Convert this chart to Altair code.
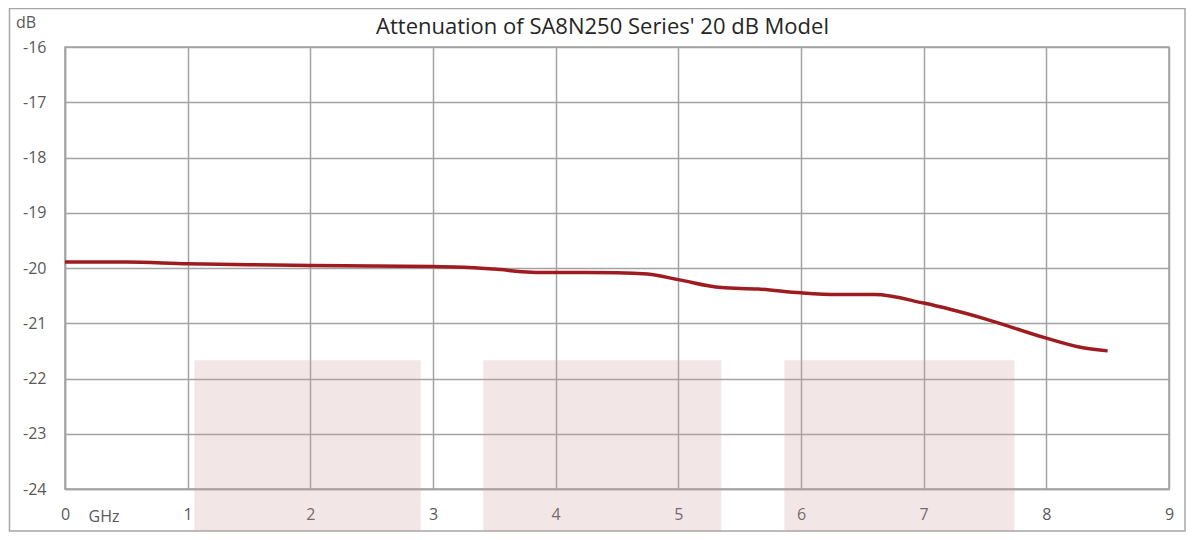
import altair as alt
import pandas as pd

# ---- data ----
freq_ghz = [0, 0.5, 1, 1.5, 2, 2.5, 3, 3.25, 3.5, 3.8, 4, 4.5, 4.75, 5,
            5.35, 5.65, 6, 6.3, 6.6, 7, 7.5, 8, 8.3, 8.5]
atten_db = [-19.89, -19.89, -19.925, -19.94, -19.955, -19.965, -19.975, -19.985,
            -20.02, -20.075, -20.082, -20.085, -20.11, -20.21, -20.355, -20.38,
            -20.45, -20.48, -20.48, -20.635, -20.92, -21.27, -21.445, -21.50]

band_start = [1.055, 3.41, 5.864]
band_end = [2.90, 5.35, 7.74]
band_top = -21.67
band_bottom = -24.76

x_ticks = [0, 1, 2, 3, 4, 5, 6, 7, 8, 9]
y_ticks = [-24, -23, -22, -21, -20, -19, -18, -17, -16]

title_text = "Attenuation of SA8N250 Series' 20 dB Model"

W, H = 1104, 442
FONT = "Open Sans"
GRID = "#a3a3a3"

line_df = pd.DataFrame({"f": freq_ghz, "a": atten_db})
band_df = pd.DataFrame({"f": band_start, "f2": band_end,
                        "a": [band_top] * 3, "a2": [band_bottom] * 3})

xscale = alt.Scale(domain=[0, 9], nice=False, zero=False)
yscale = alt.Scale(domain=[-24, -16], nice=False, zero=False)

x_axis = alt.Axis(values=x_ticks, title="GHz", titleX=23, titleY=27,
                  titleAlign="left", titleBaseline="middle", labelPadding=17,
                  labelFlush=False, labelExpr="toString(datum.value)")
y_axis = alt.Axis(values=y_ticks, title="dB", titleAngle=0, titleX=-39.5, titleY=-25,
                  titleAlign="center", titleBaseline="middle", labelPadding=19,
                  labelFlush=False, labelExpr="toString(datum.value)")

xenc = alt.X("f:Q", scale=xscale, axis=x_axis)
yenc = alt.Y("a:Q", scale=yscale, axis=y_axis)

one = pd.DataFrame({"k": [0]})

frame = alt.Chart(one).mark_rect(
    fill="white", fillOpacity=0, stroke="#a6a6a6", strokeWidth=1.5, clip=False
).encode(x=alt.value(-55.5), x2=alt.value(W + 16), y=alt.value(-38.5), y2=alt.value(H + 42))

title = alt.Chart(one).mark_text(
    text=title_text, font=FONT, fontSize=22, color="#262626",
    align="center", baseline="middle", clip=False
).encode(x=alt.value(537.5), y=alt.value(-20))

line = alt.Chart(line_df).mark_line(
    color="#9e1b20", strokeWidth=3.5, interpolate="monotone"
).encode(x=xenc, y=yenc)

bands = alt.Chart(band_df).mark_rect(
    color="#cf9b9b", opacity=0.25, clip=False
).encode(x=xenc, x2="f2:Q", y=yenc, y2="a2:Q")

chart = alt.layer(frame, title, line, bands).properties(
    width=W, height=H,
    autosize=alt.AutoSizeParams(type="none"),
    padding={"left": 57, "top": 39, "right": 17, "bottom": 43},
).configure_view(
    stroke=GRID, strokeWidth=1.5
).configure_axis(
    grid=True, gridColor=GRID, gridWidth=1.5, gridOpacity=1,
    domainColor=GRID, domainWidth=1.5, ticks=False, tickSize=0,
    labelFont=FONT, labelFontSize=16, labelColor="#595959",
    titleFont=FONT, titleFontSize=16, titleColor="#595959", titleFontWeight="normal",
)

chart.save("out.html", embed_options={"renderer": "svg", "actions": False})
